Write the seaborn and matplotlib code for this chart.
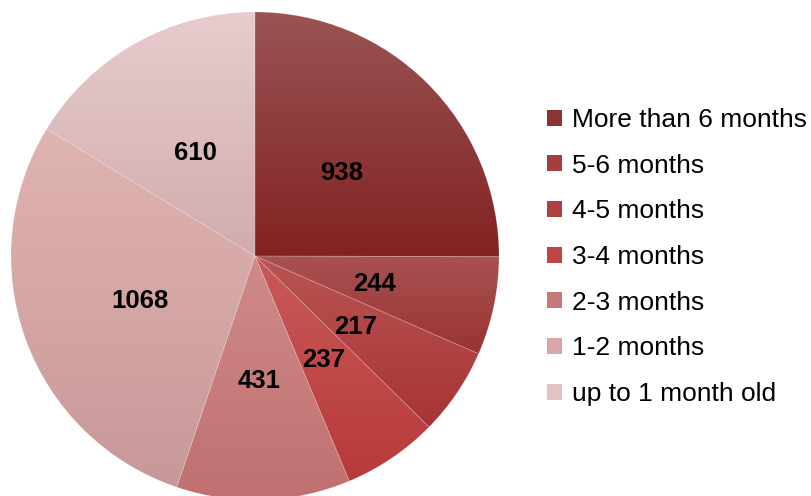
import matplotlib
matplotlib.use("Agg")

import numpy as np
import matplotlib.pyplot as plt
import seaborn as sns
from matplotlib.patches import Patch

# =====================
# DATA
# =====================
categories = [
    "More than 6 months",
    "5-6 months",
    "4-5 months",
    "3-4 months",
    "2-3 months",
    "1-2 months",
    "up to 1 month old",
]
counts = [938, 244, 217, 237, 431, 1068, 610]

# gradient colours per slice (top -> bottom)
top_colors = ["#9a5454", "#a95252", "#b95454", "#c85a58", "#d08a8a", "#e0b4b0", "#e8cccd"]
mid_colors = ["#8e3333", "#a24040", "#b04040", "#c04545", "#c87878", "#d9a8a6", "#e2c2c3"]
bottom_colors = ["#822222", "#9a3232", "#a83434", "#b83a3a", "#c07070", "#c89898", "#d0acae"]

# =====================
# STYLE
# =====================
sns.set_theme(style="white")
plt.rcParams["font.family"] = ["Liberation Sans", "DejaVu Sans"]
plt.rcParams["text.color"] = "black"

W, H = 811, 496
fig = plt.figure(figsize=(W / 100, H / 100), dpi=100)

cx, cy, R = 255, 256, 244
ax = fig.add_axes([(cx - R) / W, (H - cy - R) / H, 2 * R / W, 2 * R / H])

total = sum(counts)
wedges, texts, autotexts = ax.pie(
    counts,
    colors=mid_colors,
    startangle=90,
    counterclock=False,
    radius=1,
    autopct=lambda p: f"{round(p * total / 100)}",
    pctdistance=0.5,
    wedgeprops=dict(linewidth=0),
    textprops=dict(fontsize=18.5, fontweight="bold", color="black"),
)
ax.axis("off")

# =====================
# GRADIENT FILL
# =====================
grad = np.linspace(0, 1, 256).reshape(-1, 1)
for w, top, bot in zip(wedges, top_colors, bottom_colors):
    ext = w.get_path().get_extents()
    cmap = sns.blend_palette([top, bot], as_cmap=True)
    im = ax.imshow(
        grad,
        cmap=cmap,
        aspect="auto",
        origin="upper",
        extent=[ext.x0, ext.x1, ext.y0, ext.y1],
        zorder=1.5,
    )
    im.set_clip_path(w)
    w.set_facecolor("none")
    w.set_edgecolor((1, 1, 1, 0.15))
    w.set_linewidth(0.6)
    w.set_zorder(2)

ax.set_xlim(-1, 1)
ax.set_ylim(-1, 1)
ax.set_aspect("equal")

for t in autotexts:
    t.set_zorder(3)
    x, y = t.get_position()
    t.set_position((x, y - 0.012))

# =====================
# LEGEND
# =====================
handles = [Patch(facecolor=c, edgecolor="none") for c in mid_colors]
fig.legend(
    handles,
    categories,
    loc="center left",
    bbox_to_anchor=(547 / W, 1 - 257 / H),
    frameon=False,
    fontsize=19,
    labelcolor="black",
    handlelength=0.55,
    handleheight=0.55,
    handletextpad=0.38,
    labelspacing=0.82,
    borderaxespad=0,
    borderpad=0,
)

plt.savefig("out.png", dpi=100)
plt.close()
